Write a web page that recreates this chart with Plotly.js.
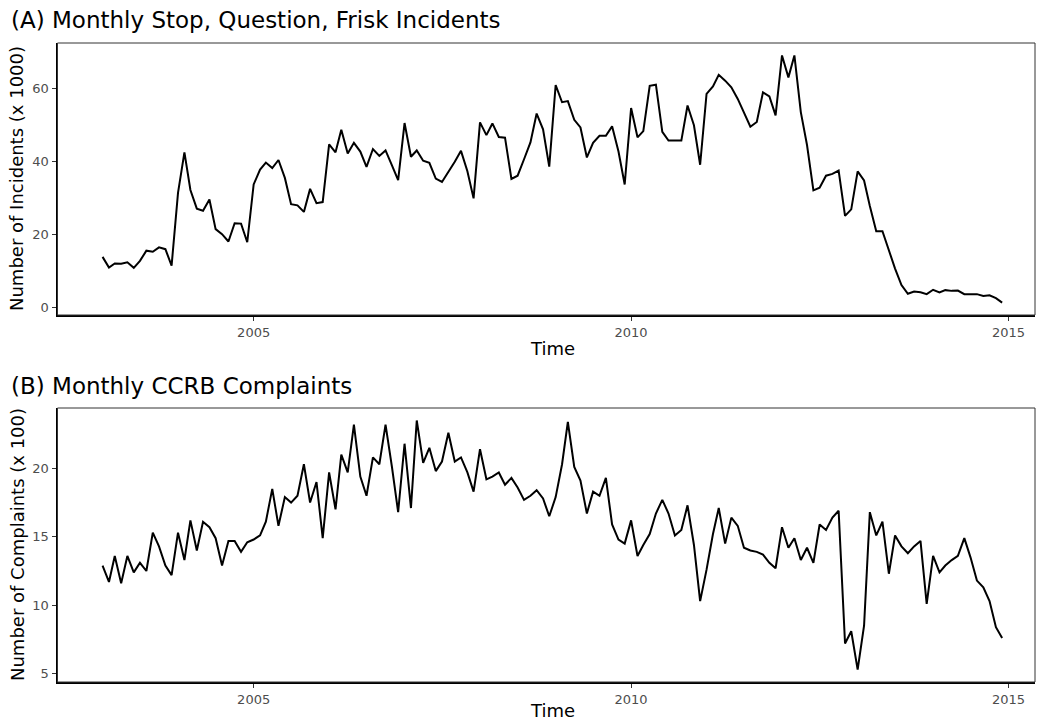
<!DOCTYPE html>
<html>
<head>
<meta charset="utf-8">
<script src="https://cdn.plot.ly/plotly-3.0.1.min.js"></script>
<style>
html,body{margin:0;padding:0;background:#fff;}
#chart{width:1048px;height:722px;}
</style>
</head>
<body>
<div id="chart"></div>
<script>
// Monthly series, January 2003 through December 2014
const startYear = 2003;
const nMonths = 144;

// (A) Stop, Question, Frisk incidents (x 1000)
const sqfIncidents = [
  13.9, 11.0, 12.1, 12.0, 12.4, 10.9, 12.8, 15.6, 15.3, 16.5, 16.0, 11.5,
  31.4, 42.5, 32.2, 27.1, 26.5, 29.6, 21.5, 20.1, 18.1, 23.1, 23.0, 17.9,
  33.7, 37.8, 39.7, 38.2, 40.4, 35.5, 28.3, 28.0, 26.2, 32.5, 28.6, 28.9,
  44.7, 42.5, 48.7, 42.2, 45.1, 42.7, 38.5, 43.4, 41.5, 43.0, 38.9, 34.9,
  50.5, 41.3, 43.0, 40.2, 39.6, 35.3, 34.4, 37.0, 39.9, 42.9, 37.3, 29.9,
  50.7, 47.2, 50.4, 46.7, 46.5, 35.2, 36.1, 40.6, 45.2, 53.1, 48.8, 38.6,
  60.9, 56.2, 56.5, 51.4, 49.3, 41.1, 45.1, 47.0, 47.0, 49.6, 42.7, 33.7,
  54.6, 46.6, 48.3, 60.7, 61.0, 48.1, 45.7, 45.7, 45.7, 55.3, 49.9, 39.1,
  58.5, 60.5, 63.7, 62.1, 60.3, 57.1, 53.5, 49.5, 50.8, 58.9, 57.8, 52.6,
  69.0, 63.0, 69.0, 53.5, 44.5, 32.1, 32.8, 36.1, 36.6, 37.5, 25.1, 26.9,
  37.3, 34.8, 27.8, 20.9, 20.9, 15.7, 10.7, 6.2, 3.8, 4.4, 4.2, 3.7,
  4.9, 4.2, 4.8, 4.6, 4.7, 3.7, 3.7, 3.7, 3.2, 3.4, 2.6, 1.4
];

// (B) CCRB complaints (x 100)
const ccrbComplaints = [
  12.9, 11.7, 13.6, 11.6, 13.6, 12.4, 13.1, 12.5, 15.3, 14.3, 12.9, 12.2,
  15.3, 13.3, 16.2, 14.0, 16.1, 15.7, 14.9, 12.9, 14.7, 14.7, 13.9, 14.6,
  14.8, 15.1, 16.1, 18.5, 15.8, 17.9, 17.5, 18.0, 20.3, 17.5, 19.0, 14.9,
  19.7, 17.0, 21.0, 19.7, 23.2, 19.4, 18.0, 20.8, 20.3, 23.2, 20.1, 16.8,
  21.8, 17.1, 23.5, 20.4, 21.5, 19.8, 20.5, 22.6, 20.5, 20.8, 19.7, 18.3,
  21.4, 19.2, 19.4, 19.7, 18.8, 19.3, 18.6, 17.7, 18.0, 18.4, 17.8, 16.5,
  17.9, 20.3, 23.4, 20.1, 19.1, 16.7, 18.3, 18.0, 19.3, 15.9, 14.8, 14.5,
  16.2, 13.6, 14.4, 15.2, 16.7, 17.7, 16.7, 15.1, 15.5, 17.3, 14.4, 10.3,
  12.6, 15.2, 17.1, 14.5, 16.4, 15.8, 14.2, 14.0, 13.9, 13.7, 13.1, 12.7,
  15.7, 14.2, 14.9, 13.3, 14.2, 13.1, 15.9, 15.5, 16.4, 16.9, 7.2, 8.1,
  5.3, 8.5, 16.8, 15.1, 16.1, 12.3, 15.1, 14.3, 13.8, 14.3, 14.7, 10.1,
  13.6, 12.4, 12.9, 13.3, 13.6, 14.9, 13.5, 11.8, 11.3, 10.3, 8.4, 7.6
];

const yTicksA = [0, 20, 40, 60];
const yTicksB = [5, 10, 15, 20];
const xTickYears = ['2005', '2010', '2015'];

const titleA = '(A) Monthly Stop, Question, Frisk Incidents';
const titleB = '(B) Monthly CCRB Complaints';
const yTitleA = 'Number of Incidents (x 1000)';
const yTitleB = 'Number of Complaints (x 100)';
const xTitle = 'Time';

// month dates
const months = [];
for (let i = 0; i < nMonths; i++) {
  const y = startYear + Math.floor(i / 12);
  const m = (i % 12) + 1;
  months.push(y + '-' + (m < 10 ? '0' + m : m) + '-01');
}

const FONT = 'DejaVu Sans, sans-serif';
const W = 1048, H = 722;
const px = v => v / W;
const py = v => 1 - v / H;

const lineStyle = {color: '#000000', width: 2};

const traces = [
  {x: months, y: sqfIncidents, type: 'scatter', mode: 'lines', line: lineStyle, xaxis: 'x', yaxis: 'y', hoverinfo: 'x+y'},
  {x: months, y: ccrbComplaints, type: 'scatter', mode: 'lines', line: lineStyle, xaxis: 'x2', yaxis: 'y2', hoverinfo: 'x+y'}
];

const xRange = ['2002-05-28', '2015-05-09'];
const xTickVals = xTickYears.map(y => y + '-01-01');
const xDom = [px(57.5), px(1035)];
const yDomA = [py(315), py(43)];
const yDomB = [py(682), py(408)];

const TICKFONT = {family: FONT, size: 13, color: '#4d4d4d'};

function xAxis(anchor) {
  return {
    anchor: anchor,
    domain: xDom,
    type: 'date',
    range: xRange,
    tickvals: xTickVals,
    ticktext: xTickYears,
    ticks: 'outside', ticklen: 4, tickwidth: 1, tickcolor: '#333333',
    tickfont: TICKFONT,
    showgrid: false, zeroline: false,
    showline: true, linecolor: '#000000', linewidth: 2, mirror: false,
    fixedrange: true
  };
}
function yAxis(anchor, dom, range, ticks) {
  return {
    anchor: anchor,
    domain: dom,
    range: range,
    tickvals: ticks,
    ticks: 'outside', ticklen: 4, tickwidth: 1, tickcolor: '#333333',
    tickfont: TICKFONT,
    showgrid: false, zeroline: false,
    showline: true, linecolor: '#000000', linewidth: 2, mirror: false,
    fixedrange: true
  };
}

function box(dx, dy) {
  return {type: 'rect', xref: 'paper', yref: 'paper', x0: dx[0], x1: dx[1], y0: dy[0], y1: dy[1],
          line: {color: '#333333', width: 1}, fillcolor: 'rgba(0,0,0,0)', layer: 'above'};
}

const TITLEFONT = {family: FONT, size: 23, color: '#000000'};
const AXTITLEFONT = {family: FONT, size: 18, color: '#000000'};

const layout = {
  width: W, height: H,
  margin: {l: 0, r: 0, t: 0, b: 0},
  paper_bgcolor: '#ffffff', plot_bgcolor: '#ffffff',
  showlegend: false,
  font: {family: FONT, color: '#000000'},
  xaxis: xAxis('y'),
  yaxis: yAxis('x', yDomA, [-2.0, 72.4], yTicksA),
  xaxis2: xAxis('y2'),
  yaxis2: yAxis('x2', yDomB, [4.39, 24.41], yTicksB),
  shapes: [box(xDom, yDomA), box(xDom, yDomB)],
  annotations: [
    {text: titleA, xref: 'paper', yref: 'paper', x: px(9), y: py(20), xanchor: 'left', yanchor: 'middle', showarrow: false, font: TITLEFONT},
    {text: titleB, xref: 'paper', yref: 'paper', x: px(9), y: py(386), xanchor: 'left', yanchor: 'middle', showarrow: false, font: TITLEFONT},
    {text: xTitle, xref: 'paper', yref: 'paper', x: px(552), y: py(348), xanchor: 'center', yanchor: 'middle', showarrow: false, font: AXTITLEFONT},
    {text: xTitle, xref: 'paper', yref: 'paper', x: px(552), y: py(710), xanchor: 'center', yanchor: 'middle', showarrow: false, font: AXTITLEFONT},
    {text: yTitleA, xref: 'paper', yref: 'paper', x: px(17), y: py(179), xanchor: 'center', yanchor: 'middle', textangle: -90, showarrow: false, font: AXTITLEFONT},
    {text: yTitleB, xref: 'paper', yref: 'paper', x: px(17), y: py(545), xanchor: 'center', yanchor: 'middle', textangle: -90, showarrow: false, font: AXTITLEFONT}
  ]
};

Plotly.newPlot('chart', traces, layout, {displayModeBar: false, staticPlot: true});
</script>
</body>
</html>
